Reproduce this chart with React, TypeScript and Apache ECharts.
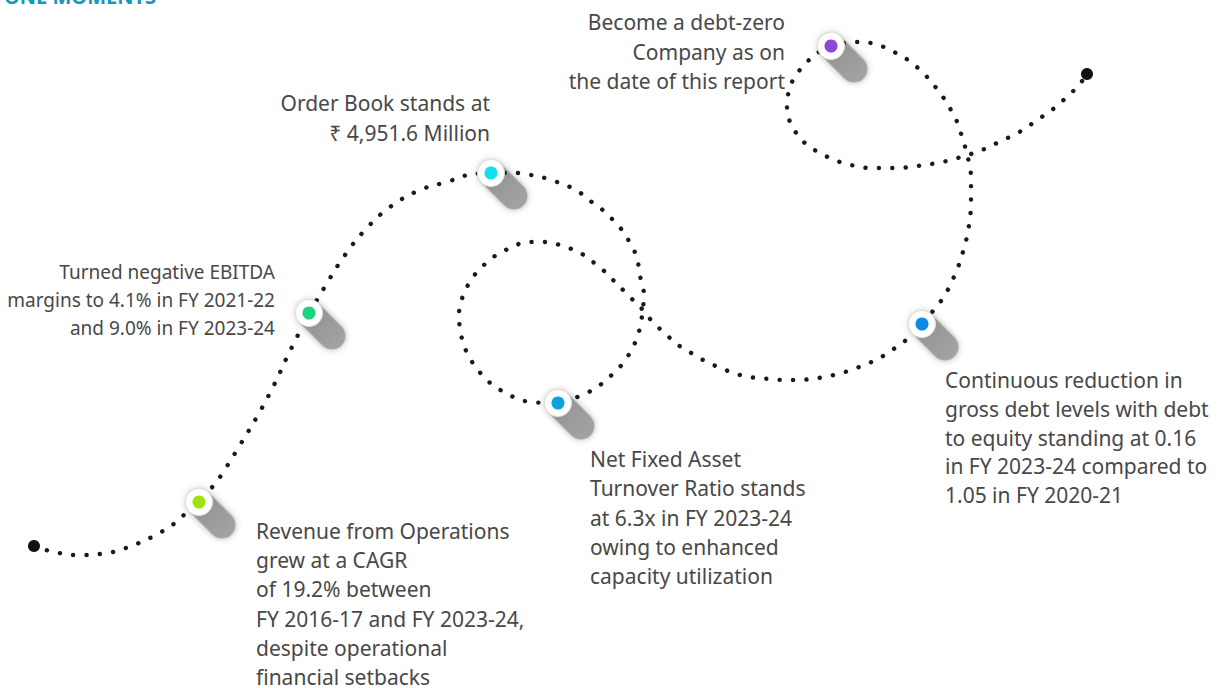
import React, { useEffect, useRef } from "react";
import * as echarts from "echarts";

// Dotted journey path (in page pixels)
const pathX = [34,46,59,73,86,100,113,126,139,152,163,175,185,199,214,222,240,258,274,288,294,300,309,320,327,345,365,390,420,450,463,491,518,531,545,557,570,582,593,604,613,622,630,636,639,641,644,643,641,638,633,626,617,607,596,584,558,531,518,506,494,484,475,468,463,460,459,461,466,473,482,492,504,516,529,543,556,569,582,593,603,613,623,632,642,651,660,670,681,693,705,718,731,744,757,770,784,797,811,824,838,851,864,876,888,899,910,922,937,945,951,957,961,965,968,970,971,971,971,969,966,962,958,952,945,937,928,919,908,896,884,871,857,831,819,808,799,792,788,787,790,797,806,818,830,843,856,870,883,897,910,924,937,951,964,977,989,1001,1014,1026,1037,1048,1059,1069,1079,1087];
const pathY = [546,550,553,555,555,554,552,548,543,537,531,523,514,502,485,474,445,415,385,355,343,331,313,295,283,255,230,207,190,181,176,173,173,175,178,182,187,194,203,211,220,230,243,255,268,281,295,308,322,335,347,359,370,379,388,394,403,402,399,393,386,377,366,355,342,329,315,302,289,277,267,258,251,245,242,242,244,248,254,262,270,280,290,299,309,320,329,338,347,354,361,367,372,376,378,379,380,380,379,377,374,370,365,360,353,345,337,324,306,295,283,270,258,245,231,218,204,190,177,163,150,137,124,112,100,89,78,69,60,53,47,43,42,46,52,61,71,82,95,109,122,134,144,152,158,163,166,168,168,168,167,165,163,160,156,152,147,141,135,128,120,113,104,95,85,74];

// Path end points
const endX = [34, 1087];
const endY = [546, 74];

// Milestone markers
const markerX = [199, 309, 491, 558, 922, 831];
const markerY = [502, 313, 173, 403, 324, 46];
const markerColors = ["#9fe30c", "#1dd27f", "#12dfe9", "#0aa1dc", "#0b8be6", "#8a49d7"];

// Text blocks
const textBlocks = [
  { lines: ["Become a debt-zero", "Company as on", "the date of this report"], x: 785, y: 22, align: "right", size: 21, lh: 29.5 },
  { lines: ["Order Book stands at", "₹ 4,951.6 Million"], x: 490, y: 103, align: "right", size: 21, lh: 30 },
  { lines: ["Turned negative EBITDA", "margins to 4.1% in FY 2021-22", "and 9.0% in FY 2023-24"], x: 275, y: 272, align: "right", size: 19, lh: 28 },
  { lines: ["Revenue from Operations", "grew at a CAGR", "of 19.2% between", "FY 2016-17 and FY 2023-24,", "despite operational", "financial setbacks"], x: 256, y: 531, align: "left", size: 21, lh: 29.2 },
  { lines: ["Net Fixed Asset", "Turnover Ratio stands", "at 6.3x in FY 2023-24", "owing to enhanced", "capacity utilization"], x: 590, y: 459, align: "left", size: 21, lh: 29.3 },
  { lines: ["Continuous reduction in", "gross debt levels with debt", "to equity standing at 0.16", "in FY 2023-24 compared to", "1.05 in FY 2020-21"], x: 945, y: 380, align: "left", size: 21, lh: 28.8 },
];

const titleText = "ONE MOMENTS";

export default function App() {
  const ref = useRef<HTMLDivElement>(null);
  useEffect(() => {
    document.body.style.margin = "0";
    if (!ref.current) return;
    const chart = echarts.init(ref.current, undefined, { renderer: "svg" });
    const font = '"Noto Sans", sans-serif';
    const graphics: any[] = textBlocks.map((b) => ({
      type: "text",
      x: b.x,
      y: b.y - b.lh / 2,
      silent: true,
      style: {
        text: b.lines.join("\n"),
        fontFamily: font,
        fontSize: b.size,
        lineHeight: b.lh,
        fill: "#484848",
        textAlign: b.align,
        textVerticalAlign: "top",
      },
    }));
    graphics.push({
      type: "text",
      x: 4,
      y: -4,
      silent: true,
      style: {
        text: titleText,
        fontFamily: font,
        fontWeight: "bold",
        fontSize: 20,
        fill: "#1597bf",
        textAlign: "left",
        textVerticalAlign: "middle",
      },
    });
    const markerData = markerX.map((x, i) => [x, markerY[i]]);
    chart.setOption({
      animation: false,
      grid: { left: 0, right: 0, top: 0, bottom: 0 },
      xAxis: { type: "value", min: 0, max: 1218, show: false },
      yAxis: { type: "value", min: 0, max: 688, inverse: true, show: false },
      series: [
        {
          type: "custom",
          z: 1,
          silent: true,
          data: markerData,
          renderItem: (params: any, api: any) => {
            const p = api.coord([api.value(0), api.value(1)]);
            return {
              type: "rect",
              x: p[0],
              y: p[1],
              rotation: -Math.PI / 4,
              shape: { x: -13, y: -13.5, width: 59, height: 27, r: 13.5 },
              style: {
                fill: new echarts.graphic.LinearGradient(0, 0, 1, 0, [
                  { offset: 0, color: "#8f8f8f" },
                  { offset: 1, color: "#a3a3a3" },
                ]),
                shadowBlur: 6,
                shadowColor: "rgba(90,90,90,0.45)",
              },
            };
          },
        },
        {
          type: "line",
          z: 2,
          silent: true,
          smooth: 0.4,
          showSymbol: false,
          data: pathX.map((x, i) => [x, pathY[i]]),
          lineStyle: { color: "#1a1a1a", width: 4.4, type: [0.1, 13.3], cap: "round" },
        },
        {
          type: "scatter",
          z: 3,
          silent: true,
          symbolSize: 12,
          itemStyle: { color: "#111111", opacity: 1 },
          data: endX.map((x, i) => [x, endY[i]]),
        },
        {
          type: "custom",
          z: 4,
          silent: true,
          data: markerData,
          renderItem: (params: any, api: any) => {
            const p = api.coord([api.value(0), api.value(1)]);
            return {
              type: "group",
              children: [
                {
                  type: "circle",
                  shape: { cx: p[0], cy: p[1], r: 13.5 },
                  style: { fill: "#ffffff", stroke: "#e2e2e2", lineWidth: 1 },
                },
                {
                  type: "circle",
                  shape: { cx: p[0], cy: p[1], r: 6.5 },
                  style: { fill: markerColors[params.dataIndex] },
                },
              ],
            };
          },
        },
      ],
      graphic: graphics,
    });
    return () => chart.dispose();
  }, []);
  return <div ref={ref} style={{ width: 1218, height: 688 }} />;
}
